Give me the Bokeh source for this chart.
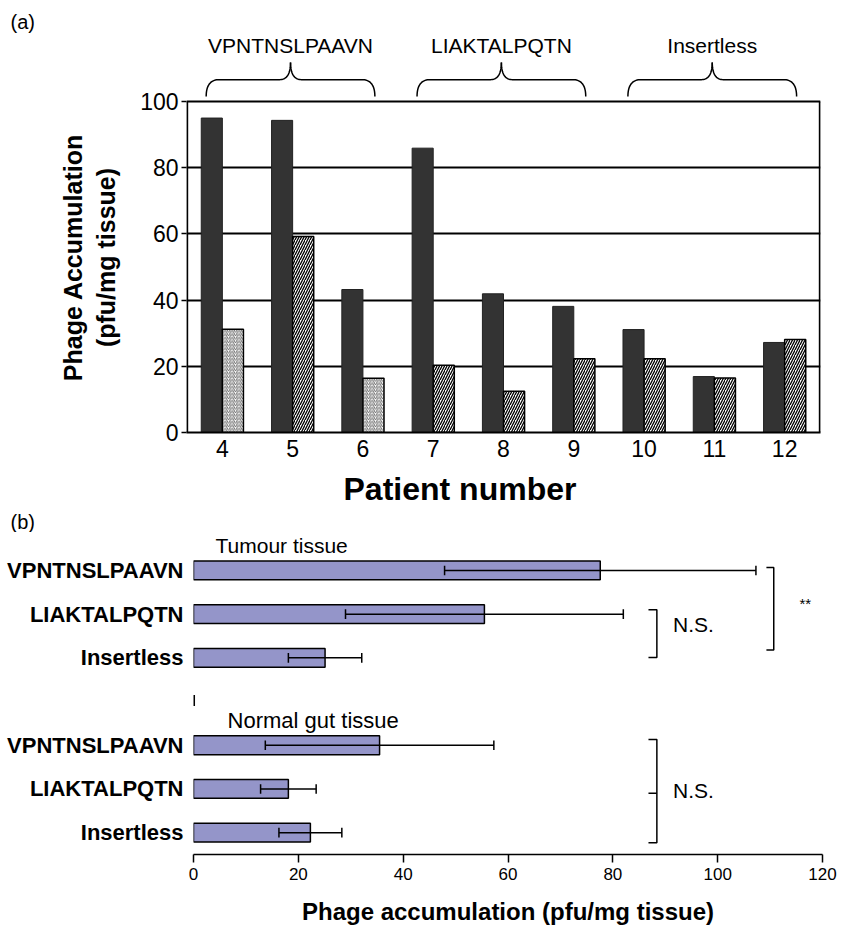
import numpy as np
from bokeh.plotting import figure
from bokeh.models import Range1d, FixedTicker, Label, ColumnDataSource, Title
from bokeh.layouts import column, row
from bokeh.embed import file_html
from bokeh.resources import INLINE
from bokeh.core.properties import value

# ---------------- data ----------------
patients = [4, 5, 6, 7, 8, 9, 10, 11, 12]
series_dark = [95.0, 94.3, 43.2, 85.9, 41.9, 38.1, 31.1, 16.9, 27.2]
series_hatched = [31.2, 59.2, 16.4, 20.3, 12.5, 22.3, 22.3, 16.5, 28.1]
group_names = ["VPNTNSLPAAVN", "LIAKTALPQTN", "Insertless"]
group_patients = [[4, 5, 6], [7, 8, 9], [10, 11, 12]]
y_ticks_a = [0, 20, 40, 60, 80, 100]

peptides = ["VPNTNSLPAAVN", "LIAKTALPQTN", "Insertless"]
tumour_mean = [77.6, 55.5, 25.1]
tumour_err = [29.7, 26.5, 7.0]
normal_mean = [35.5, 18.1, 22.3]
normal_err = [21.8, 5.3, 6.0]
x_ticks_b = [0, 20, 40, 60, 80, 100, 120]

FONT = "Liberation Sans"
H_A = 532          # height of the top row
W_L = 130          # width of the strip holding (a), (b) and the y-title of panel (a)


def mk_title(text, size, style="normal", **kw):
    return Title(text=text, text_font=FONT, text_font_size=size, text_font_style=style,
                 text_color="black", **kw)


# ---------------- left strip ----------------
lf = figure(width=W_L, height=H_A, output_backend="svg", toolbar_location=None,
            x_range=Range1d(0, W_L), y_range=Range1d(H_A, 0),
            x_axis_location=None, y_axis_location=None,
            min_border_left=0, min_border_right=0, min_border_top=0, min_border_bottom=0)
if "frame_align" in lf.properties():
    lf.frame_align = False
lf.outline_line_color = None
lf.grid.grid_line_color = None
lf.text(x=[10, 10], y=[21, 521], text=["(a)", "(b)"], text_align="left", text_baseline="middle",
        text_font=value(FONT), text_font_size="20px", text_color="black")
lf.text(x=[72], y=[257], text=["Phage Accumulation"], angle=np.pi / 2, text_align="center",
        text_baseline="middle", text_font=value(FONT), text_font_size="25px",
        text_font_style="bold", text_color="black")
lf.text(x=[105], y=[257], text=["(pfu/mg tissue)"], angle=np.pi / 2, text_align="center",
        text_baseline="middle", text_font=value(FONT), text_font_size="25px",
        text_font_style="bold", text_color="black")

# ---------------- panel (a) ----------------
xa0, xa1 = patients[0] - 0.51, patients[-1] + 0.51
PX_A = 3.31                      # px per unit (y)
ya_top = (432 - 30) / PX_A
pa = figure(width=841 - W_L, height=H_A, output_backend="svg", toolbar_location=None,
            x_range=Range1d(xa0, xa1), y_range=Range1d(0, ya_top),
            min_border_left=186 - W_L, min_border_right=21, min_border_top=30,
            min_border_bottom=H_A - 432)
if "frame_align" in pa.properties():
    pa.frame_align = False
pa.outline_line_color = None

pa.xgrid.grid_line_color = None
pa.ygrid.ticker = FixedTicker(ticks=y_ticks_a[1:-1])
pa.ygrid.grid_line_color = "black"
pa.ygrid.grid_line_width = 2

pa.yaxis.ticker = FixedTicker(ticks=y_ticks_a)
pa.yaxis.axis_line_color = None
pa.yaxis.major_tick_out = 5
pa.yaxis.major_tick_in = 0
pa.yaxis.major_tick_line_width = 1.5
pa.yaxis.minor_tick_line_color = None
pa.yaxis.minor_tick_out = 0
pa.yaxis.major_label_text_font = FONT
pa.yaxis.major_label_text_font_size = "23px"
pa.yaxis.major_label_text_color = "black"
pa.yaxis.major_label_standoff = 3

pa.xaxis.ticker = FixedTicker(ticks=patients)
pa.xaxis.axis_line_color = "black"
pa.xaxis.axis_line_width = 2
pa.xaxis.major_tick_line_color = None
pa.xaxis.major_tick_out = 0
pa.xaxis.minor_tick_out = 0
pa.xaxis.minor_tick_line_color = None
pa.xaxis.major_label_text_font = FONT
pa.xaxis.major_label_text_font_size = "23px"
pa.xaxis.major_label_text_color = "black"
pa.xaxis.major_label_standoff = 7

pa.add_layout(mk_title("Patient number", "32px", "bold", align="left", offset=157,
                       standoff=22, vertical_align="top"), "below")

bw = 0.3
src_a = ColumnDataSource(dict(
    x=patients, dark=series_dark, hat=series_hatched,
    xd=[p - bw / 2 for p in patients], xh=[p + bw / 2 for p in patients],
))
pa.vbar(x="xd", top="dark", width=bw, bottom=0, source=src_a,
        fill_color="#333333", line_color="#222222", line_width=1)

light = [0, 2]
for i, p in enumerate(patients):
    if i in light:
        hc, hw, hs = "#444444", 0.8, 3.5
    else:
        hc, hw, hs = "black", 1.3, 5
    pa.vbar(x=[p + bw / 2], top=[series_hatched[i]], width=bw, bottom=0,
            fill_color="white", line_color="black", line_width=1.5,
            hatch_pattern="/", hatch_color=hc, hatch_weight=hw, hatch_scale=hs)

# frame box (left, right, top)
pa.line([xa0 + 0.01, xa0 + 0.01], [0, y_ticks_a[-1]], line_color="black", line_width=2)
pa.line([xa1 - 0.01, xa1 - 0.01], [0, y_ticks_a[-1]], line_color="black", line_width=2)
pa.line([xa0, xa1], [y_ticks_a[-1], y_ticks_a[-1]], line_color="black", line_width=2)

# braces
def quad(p0, c, p1, n=20):
    t = np.linspace(0, 1, n)
    x = (1 - t) ** 2 * p0[0] + 2 * (1 - t) * t * c[0] + t ** 2 * p1[0]
    y = (1 - t) ** 2 * p0[1] + 2 * (1 - t) * t * c[1] + t ** 2 * p1[1]
    return list(x), list(y)

yb0, yb1, yb2 = 101.5, 106.6, 111.8
for name, gp in zip(group_names, group_patients):
    xc = float(np.mean(gp)) - 0.03
    half = 1.2
    for s in (-1, 1):
        xe = xc + s * half
        a_x, a_y = quad((xe, yb0), (xe, yb1), (xe - s * 0.185, yb1))
        b_x, b_y = quad((xc + s * 0.156, yb1), (xc, yb1), (xc, yb2))
        pa.line(a_x + b_x, a_y + b_y, line_color="black", line_width=1.5)
    pa.add_layout(Label(x=xc, y=(432 - 45) / PX_A, text=name, text_align="center",
                        text_baseline="middle", text_font=FONT, text_font_size="21px",
                        text_color="black"))

# ---------------- panel (b) ----------------
slots_t = [1, 2, 3]
slots_n = [5, 6, 7]
PX_B = 43.7
TOP_B = 0
frame_h_b = 854 - (H_A + TOP_B)
BOT_B = 76
y_top_b = 7.5 - frame_h_b / PX_B
pb = figure(width=841, height=TOP_B + frame_h_b + BOT_B, output_backend="svg",
            toolbar_location=None, title=None,
            x_range=Range1d(x_ticks_b[0], x_ticks_b[-1]),
            y_range=Range1d(7.5, y_top_b),
            min_border_left=193, min_border_right=19, min_border_top=TOP_B,
            min_border_bottom=BOT_B)
pb.outline_line_color = None
pb.grid.grid_line_color = None

pb.xaxis.ticker = FixedTicker(ticks=x_ticks_b)
pb.xaxis.axis_line_color = "black"
pb.xaxis.axis_line_width = 1.5
pb.xaxis.major_tick_out = 8
pb.xaxis.major_tick_in = 0
pb.xaxis.major_tick_line_width = 1.5
pb.xaxis.minor_tick_line_color = None
pb.xaxis.minor_tick_out = 0
pb.xaxis.major_label_text_font = FONT
pb.xaxis.major_label_text_font_size = "17px"
pb.xaxis.major_label_text_color = "black"
pb.xaxis.major_label_standoff = 5
pb.xaxis.axis_label = "Phage accumulation (pfu/mg tissue)"
pb.xaxis.axis_label_text_font = FONT
pb.xaxis.axis_label_text_font_size = "24px"
pb.xaxis.axis_label_text_font_style = "bold"
pb.xaxis.axis_label_text_color = "black"
pb.xaxis.axis_label_standoff = 15

pb.yaxis.ticker = FixedTicker(ticks=slots_t + slots_n)
pb.yaxis.major_label_overrides = {s: n for s, n in zip(slots_t + slots_n, peptides + peptides)}
pb.yaxis.axis_line_color = None
pb.yaxis.major_tick_line_color = None
pb.yaxis.major_tick_out = 0
pb.yaxis.minor_tick_out = 0
pb.yaxis.minor_tick_line_color = None
pb.yaxis.major_label_text_font = FONT
pb.yaxis.major_label_text_font_size = "22px"
pb.yaxis.major_label_text_font_style = "bold"
pb.yaxis.major_label_text_color = "black"
pb.yaxis.major_label_standoff = 10

means = tumour_mean + normal_mean
errs = tumour_err + normal_err
slots = slots_t + slots_n
src_b = ColumnDataSource(dict(
    y=slots, m=means,
    lo=[m - e for m, e in zip(means, errs)], hi=[m + e for m, e in zip(means, errs)],
    y0=[s - 0.11 for s in slots], y1=[s + 0.11 for s in slots],
))
pb.hbar(y="y", right="m", left=0, height=0.43, source=src_b,
        fill_color="#9495c9", line_color="black", line_width=1.5)
pb.segment(x0="lo", y0="y", x1="hi", y1="y", source=src_b, line_color="black", line_width=1.5)
pb.segment(x0="lo", y0="y0", x1="lo", y1="y1", source=src_b, line_color="black", line_width=1.5)
pb.segment(x0="hi", y0="y0", x1="hi", y1="y1", source=src_b, line_color="black", line_width=1.5)

# small axis mark in the gap between the two groups
pb.segment(x0=[0.1], y0=[3.85], x1=[0.1], y1=[4.1], line_color="black", line_width=2)

# significance brackets
def bracket(x, ytop, ybot, dx, mid=None):
    pb.line([x - dx, x, x, x - dx], [ytop, ytop, ybot, ybot], line_color="black", line_width=1.5)
    if mid is not None:
        pb.line([x - dx, x], [mid, mid], line_color="black", line_width=1.5)

bracket(110.7, 0.93, 2.82, 1.4)
bracket(88.4, 1.9, 2.99, 1.6)
bracket(88.4, 4.87, 7.23, 1.6, mid=6.1)

pb.add_layout(Label(x=115.6, y=1.76, text="**", text_align="left", text_baseline="middle",
                    text_font=FONT, text_font_size="15px", text_color="black"))
pb.add_layout(Label(x=91.5, y=2.24, text="N.S.", text_align="left", text_baseline="middle",
                    text_font=FONT, text_font_size="21px", text_color="black"))
pb.add_layout(Label(x=91.5, y=6.04, text="N.S.", text_align="left", text_baseline="middle",
                    text_font=FONT, text_font_size="21px", text_color="black"))
pb.add_layout(Label(x=4.2, y=1 + (545 - 570) / PX_B, text="Tumour tissue", text_align="left",
                    text_baseline="middle", text_font=FONT, text_font_size="21px",
                    text_color="black"))
pb.add_layout(Label(x=6.5, y=4.43, text="Normal gut tissue", text_align="left",
                    text_baseline="middle", text_font=FONT, text_font_size="22px",
                    text_color="black"))

layout = column(row(lf, pa, spacing=0), pb, spacing=0)
open("out.html", "w").write(file_html(layout, INLINE))
